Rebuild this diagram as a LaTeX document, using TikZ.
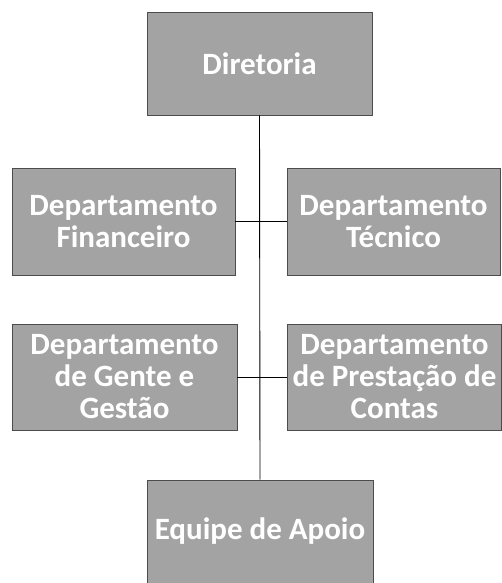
\documentclass[tikz,border=0pt]{standalone}
\usepackage{fontspec}
\setmainfont{Carlito}
\begin{document}
\begin{tikzpicture}[x=1pt,y=-1pt,
  orgbox/.style={rectangle, draw=black!70, line width=0.8pt, fill=black!36,
    text=white, font=\fontsize{31}{32}\selectfont\bfseries, align=center, inner sep=0pt},
  link/.style={draw=black, line width=0.9pt}]
\useasboundingbox (0,0) rectangle (502,583);
\node[orgbox, minimum width=225, minimum height=103] (dir) at (259.5,63.5) {Diretoria};
\node[orgbox, minimum width=223, minimum height=107] (fin) at (123.5,221.5) {Departamento\\Financeiro};
\node[orgbox, minimum width=213, minimum height=107] (tec) at (393.5,221.5) {Departamento\\Técnico};
\node[orgbox, minimum width=225, minimum height=106] (gen) at (124.5,377) {Departamento\\de Gente e\\Gestão};
\node[orgbox, minimum width=214, minimum height=106] (pre) at (394.5,377) {Departamento\\de Prestação de\\Contas};
\node[orgbox, minimum width=226, minimum height=103] (apo) at (260,531.5) {Equipe de Apoio};
\draw[link] (dir.south) -- (apo.north);
\draw[link] (fin.east) -- (tec.west);
\draw[link] (gen.east) -- (pre.west);
\end{tikzpicture}
\end{document}
